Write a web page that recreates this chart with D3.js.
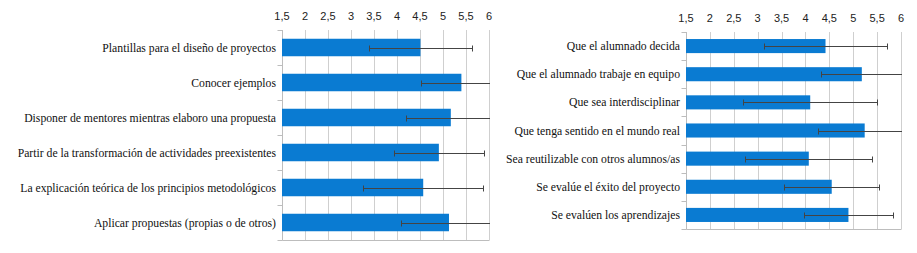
<!DOCTYPE html>
<html>
<head>
<meta charset="utf-8">
<script src="https://cdn.jsdelivr.net/npm/d3@7"></script>
<style>
    body { margin: 0; background: #fff; }
    .grid line { stroke: #cfcfcf; }
    .axis-line { stroke: #bdbdbd; fill: none; }
    .bar { fill: #0a7bd2; }
    .err { stroke: #444; stroke-width: 1; fill: none; }
    .tick-label { font-family: "Liberation Sans", Arial, sans-serif; font-size: 11px; fill: #222; }
    .cat-label { font-family: "Liberation Serif", "Times New Roman", serif; font-size: 11.7px; fill: #111; }
</style>
</head>
<body>
<svg id="chart" width="917" height="253"></svg>
<script>
(function () {
    "use strict";

    const tickValues = [1.5, 2, 2.5, 3, 3.5, 4, 4.5, 5, 5.5, 6];

    const leftCategories = [
        "Plantillas para el diseño de proyectos",
        "Conocer ejemplos",
        "Disponer de mentores mientras elaboro una propuesta",
        "Partir de la transformación de actividades preexistentes",
        "La explicación teórica de los principios metodológicos",
        "Aplicar propuestas (propias o de otros)"
    ];
    const leftMeans = [4.51, 5.40, 5.17, 4.91, 4.57, 5.13];
    const leftDeviations = [1.12, 0.88, 0.97, 0.98, 1.31, 1.05];

    const rightCategories = [
        "Que el alumnado decida",
        "Que el alumnado trabaje en equipo",
        "Que sea interdisciplinar",
        "Que tenga sentido en el mundo real",
        "Sea reutilizable con otros alumnos/as",
        "Se evalúe el éxito del proyecto",
        "Se evalúen los aprendizajes"
    ];
    const rightMeans = [4.42, 5.18, 4.10, 5.24, 4.07, 4.55, 4.90];
    const rightDeviations = [1.28, 0.86, 1.40, 0.97, 1.33, 0.99, 0.93];

    const svg = d3.select("#chart");

    function drawChart(opts) {
        const x = d3.scaleLinear()
            .domain([1.5, 6])
            .range([opts.left, opts.right]);

        const y = d3.scaleBand()
            .domain(opts.categories)
            .range([opts.top, opts.bottom])
            .paddingInner(0.5)
            .paddingOuter(0.25);

        const g = svg.append("g").attr("class", "panel");

        // vertical grid lines
        g.append("g")
            .attr("class", "grid")
            .selectAll("line")
            .data(tickValues)
            .join("line")
            .attr("x1", d => Math.round(x(d)) + 0.5)
            .attr("x2", d => Math.round(x(d)) + 0.5)
            .attr("y1", opts.top)
            .attr("y2", opts.bottom);

        // tick labels on top
        g.selectAll("text.tick-label")
            .data(tickValues)
            .join("text")
            .attr("class", "tick-label")
            .attr("x", d => x(d))
            .attr("y", opts.top - 10)
            .attr("text-anchor", "middle")
            .text(d => String(d).replace(".", ","));

        // left axis line with category separators
        const left = Math.round(opts.left) + 0.5;
        const bottom = Math.round(opts.bottom) + 0.5;
        g.append("path")
            .attr("class", "axis-line")
            .attr("d", `M${left},${opts.top}V${bottom}H${Math.round(opts.right) + 0.5}`);

        const step = y.step();
        const separators = d3.range(opts.categories.length + 1)
            .map(i => Math.round(opts.top + i * step) + 0.5);
        g.selectAll("line.sep")
            .data(separators)
            .join("line")
            .attr("class", "axis-line")
            .attr("x1", left - 5)
            .attr("x2", left)
            .attr("y1", d => d)
            .attr("y2", d => d);

        // category labels
        g.selectAll("text.cat-label")
            .data(opts.categories)
            .join("text")
            .attr("class", "cat-label")
            .attr("x", opts.left - 6)
            .attr("y", d => y(d) + y.bandwidth() / 2)
            .attr("dy", "0.35em")
            .attr("text-anchor", "end")
            .text(d => d);

        // bars
        g.selectAll("rect.bar")
            .data(opts.means)
            .join("rect")
            .attr("class", "bar")
            .attr("x", x(1.5))
            .attr("y", (d, i) => y(opts.categories[i]))
            .attr("width", d => x(d) - x(1.5))
            .attr("height", y.bandwidth());

        // error bars, clipped to the plot area
        const clipId = opts.id + "-clip";
        g.append("clipPath")
            .attr("id", clipId)
            .append("rect")
            .attr("x", opts.left)
            .attr("y", opts.top)
            .attr("width", opts.right - opts.left + 1)
            .attr("height", opts.bottom - opts.top);

        const errors = g.append("g")
            .attr("clip-path", `url(#${clipId})`)
            .selectAll("g")
            .data(opts.means.map((m, i) => ({ m, s: opts.deviations[i], c: opts.categories[i] })))
            .join("g")
            .attr("transform", d => `translate(0,${Math.round(y(d.c) + y.bandwidth() / 2) + 0.5})`);

        errors.append("path")
            .attr("class", "err")
            .attr("d", d => {
                const x0 = Math.round(x(d.m - d.s)) + 0.5;
                const x1 = Math.round(x(d.m + d.s)) + 0.5;
                return `M${x0},-3V3M${x0},0H${x1}M${x1},-3V3`;
            });
    }

    drawChart({
        id: "left",
        categories: leftCategories,
        means: leftMeans,
        deviations: leftDeviations,
        left: 282,
        right: 489,
        top: 30,
        bottom: 240
    });

    drawChart({
        id: "right",
        categories: rightCategories,
        means: rightMeans,
        deviations: rightDeviations,
        left: 686,
        right: 901,
        top: 32,
        bottom: 229
    });
}());
</script>
</body>
</html>
